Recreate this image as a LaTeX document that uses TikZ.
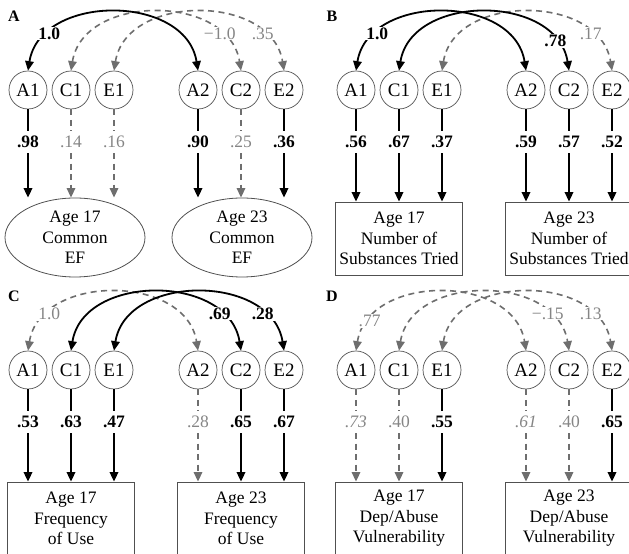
\documentclass[tikz,border=0pt]{standalone}
\usepackage{fontspec}
\setmainfont{Liberation Serif}
\usetikzlibrary{arrows.meta,shapes.geometric,calc}
\definecolor{dgray}{HTML}{6E6E6E}
\definecolor{lgray}{HTML}{858585}
\definecolor{cgray}{HTML}{505050}
\tikzset{
  x=1bp,y=1bp,
  >={Triangle[length=9.5bp,width=8.5bp]},
  fnt/.style={font=\fontsize{17.5bp}{20.5bp}\selectfont},
  lat/.style={circle,draw=cgray,line width=0.7bp,minimum size=38bp,inner sep=0pt,font=\fontsize{19bp}{21bp}\selectfont},
  obs/.style={rectangle,draw=cgray,line width=0.8bp,minimum width=127bp,minimum height=73bp,align=center,inner sep=0pt,fnt},
  oval/.style={ellipse,draw=cgray,line width=0.8bp,minimum width=140bp,minimum height=79bp,align=center,inner sep=0pt,fnt},
  sol/.style={draw=black,line width=1.8bp},
  dsh/.style={draw=dgray,line width=1.6bp,dash pattern=on 6bp off 4.5bp},
  bl/.style={font=\fontsize{17.5bp}{20.5bp}\selectfont\bfseries,text=black},
  gs/.style={font=\fontsize{17.5bp}{20.5bp}\selectfont,text=lgray},
  gi/.style={font=\fontsize{17.5bp}{20.5bp}\selectfont\itshape,text=lgray},
  lod/.style={inner xsep=1bp,inner ysep=5bp},
  arclab/.style={fill=white,inner sep=1bp},
  arcto/.style={out=81,in=99,looseness=1.18},
  plet/.style={font=\fontsize{16bp}{18bp}\selectfont\bfseries},
}
\newcommand\latrow[2]{%
  \node[lat] (#1A1) at (28,#2) {A1};
  \node[lat] (#1C1) at (71,#2) {C1};
  \node[lat] (#1E1) at (114,#2) {E1};
  \node[lat] (#1A2) at (198,#2) {A2};
  \node[lat] (#1C2) at (241,#2) {C2};
  \node[lat] (#1E2) at (284,#2) {E2};}
\begin{document}
\begin{tikzpicture}
\useasboundingbox (0,0) rectangle (629,554);

% ================= Panel A =================
\node[plet] (pA) at (14,538) {A};
\latrow{a}{464}
\node[oval] (aO1) at (75,316.5) {Age 17\\Common\\EF};
\node[oval] (aO2) at (242,316.5) {Age 23\\Common\\EF};
\draw[dsh,<->] (aC1.north) to[arcto] node[pos=0.8,arclab,gs]{−1.0} (aC2.north);
\draw[dsh,<->] (aE1.north) to[arcto] node[pos=0.8,arclab,gs]{.35} (aE2.north);
\draw[sol,<->] (aA1.north) to[arcto] node[pos=0.2,arclab,bl]{1.0} (aA2.north);
\node[bl,lod] (aLA1) at (28,412) {.98};
\node[gs,lod] (aLC1) at (71,412) {.14};
\node[gs,lod] (aLE1) at (114,412) {.16};
\node[bl,lod] (aLA2) at (198,412) {.90};
\node[gs,lod] (aLC2) at (241,412) {.25};
\node[bl,lod] (aLE2) at (284,412) {.36};
\draw[sol] (aA1) -- (aLA1); \draw[sol,->] (aLA1) -- (aLA1 |- aO1.north);
\draw[dsh] (aC1) -- (aLC1); \draw[dsh,->] (aLC1) -- (aLC1 |- aO1.north);
\draw[dsh] (aE1) -- (aLE1); \draw[dsh,->] (aLE1) -- (aLE1 |- aO1.north);
\draw[sol] (aA2) -- (aLA2); \draw[sol,->] (aLA2) -- (aLA2 |- aO2.north);
\draw[dsh] (aC2) -- (aLC2); \draw[dsh,->] (aLC2) -- (aLC2 |- aO2.north);
\draw[sol] (aE2) -- (aLE2); \draw[sol,->] (aLE2) -- (aLE2 |- aO2.north);

% ================= Panel B =================
\begin{scope}[xshift=328bp]
\node[plet] (pB) at (4,538) {B};
\latrow{b}{464}
\node[obs] (bO1) at (71,315.5) {Age 17\\Number of\\Substances Tried};
\node[obs] (bO2) at (241,315.5) {Age 23\\Number of\\Substances Tried};
\draw[dsh,<->] (bE1.north) to[arcto] node[pos=0.8,arclab,gs]{.17} (bE2.north);
\draw[sol,<->] (bA1.north) to[arcto] node[pos=0.2,arclab,bl]{1.0} (bA2.north);
\draw[sol,<->] (bC1.north) to[arcto] node[pos=0.85,arclab,bl]{.78} (bC2.north);
\node[bl,lod] (bLA1) at (28,412) {.56};
\node[bl,lod] (bLC1) at (71,412) {.67};
\node[bl,lod] (bLE1) at (114,412) {.37};
\node[bl,lod] (bLA2) at (198,412) {.59};
\node[bl,lod] (bLC2) at (241,412) {.57};
\node[bl,lod] (bLE2) at (284,412) {.52};
\draw[sol] (bA1) -- (bLA1); \draw[sol,->] (bLA1) -- (bLA1 |- bO1.north);
\draw[sol] (bC1) -- (bLC1); \draw[sol,->] (bLC1) -- (bLC1 |- bO1.north);
\draw[sol] (bE1) -- (bLE1); \draw[sol,->] (bLE1) -- (bLE1 |- bO1.north);
\draw[sol] (bA2) -- (bLA2); \draw[sol,->] (bLA2) -- (bLA2 |- bO2.north);
\draw[sol] (bC2) -- (bLC2); \draw[sol,->] (bLC2) -- (bLC2 |- bO2.north);
\draw[sol] (bE2) -- (bLE2); \draw[sol,->] (bLE2) -- (bLE2 |- bO2.north);
\end{scope}

% ================= Panel C =================
\node[plet] (pC) at (14,258) {C};
\latrow{c}{184}
\node[obs] (cO1) at (71,35.5) {Age 17\\Frequency\\of Use};
\node[obs] (cO2) at (241,35.5) {Age 23\\Frequency\\of Use};
\draw[dsh,<->] (cA1.north) to[arcto] node[pos=0.2,arclab,gs]{1.0} (cA2.north);
\draw[sol,<->] (cC1.north) to[arcto] node[pos=0.8,arclab,bl]{.69} (cC2.north);
\draw[sol,<->] (cE1.north) to[arcto] node[pos=0.8,arclab,bl]{.28} (cE2.north);
\node[bl,lod] (cLA1) at (28,132) {.53};
\node[bl,lod] (cLC1) at (71,132) {.63};
\node[bl,lod] (cLE1) at (114,132) {.47};
\node[gs,lod] (cLA2) at (198,132) {.28};
\node[bl,lod] (cLC2) at (241,132) {.65};
\node[bl,lod] (cLE2) at (284,132) {.67};
\draw[sol] (cA1) -- (cLA1); \draw[sol,->] (cLA1) -- (cLA1 |- cO1.north);
\draw[sol] (cC1) -- (cLC1); \draw[sol,->] (cLC1) -- (cLC1 |- cO1.north);
\draw[sol] (cE1) -- (cLE1); \draw[sol,->] (cLE1) -- (cLE1 |- cO1.north);
\draw[dsh] (cA2) -- (cLA2); \draw[dsh,->] (cLA2) -- (cLA2 |- cO2.north);
\draw[sol] (cC2) -- (cLC2); \draw[sol,->] (cLC2) -- (cLC2 |- cO2.north);
\draw[sol] (cE2) -- (cLE2); \draw[sol,->] (cLE2) -- (cLE2 |- cO2.north);

% ================= Panel D =================
\begin{scope}[xshift=328bp]
\node[plet] (pD) at (4,258) {D};
\latrow{d}{184}
\node[obs] (dO1) at (71,35.5) {Age 17\\Dep/Abuse\\Vulnerability};
\node[obs] (dO2) at (241,35.5) {Age 23\\Dep/Abuse\\Vulnerability};
\draw[dsh,<->] (dA1.north) to[arcto] node[pos=0.15,arclab,gs]{.77} (dA2.north);
\draw[dsh,<->] (dC1.north) to[arcto] node[pos=0.8,arclab,gs]{−.15} (dC2.north);
\draw[dsh,<->] (dE1.north) to[arcto] node[pos=0.8,arclab,gs]{.13} (dE2.north);
\node[gi,lod] (dLA1) at (28,132) {.73};
\node[gs,lod] (dLC1) at (71,132) {.40};
\node[bl,lod] (dLE1) at (114,132) {.55};
\node[gi,lod] (dLA2) at (198,132) {.61};
\node[gs,lod] (dLC2) at (241,132) {.40};
\node[bl,lod] (dLE2) at (284,132) {.65};
\draw[dsh] (dA1) -- (dLA1); \draw[dsh,->] (dLA1) -- (dLA1 |- dO1.north);
\draw[dsh] (dC1) -- (dLC1); \draw[dsh,->] (dLC1) -- (dLC1 |- dO1.north);
\draw[sol] (dE1) -- (dLE1); \draw[sol,->] (dLE1) -- (dLE1 |- dO1.north);
\draw[dsh] (dA2) -- (dLA2); \draw[dsh,->] (dLA2) -- (dLA2 |- dO2.north);
\draw[dsh] (dC2) -- (dLC2); \draw[dsh,->] (dLC2) -- (dLC2 |- dO2.north);
\draw[sol] (dE2) -- (dLE2); \draw[sol,->] (dLE2) -- (dLE2 |- dO2.north);
\end{scope}
\end{tikzpicture}
\end{document}
